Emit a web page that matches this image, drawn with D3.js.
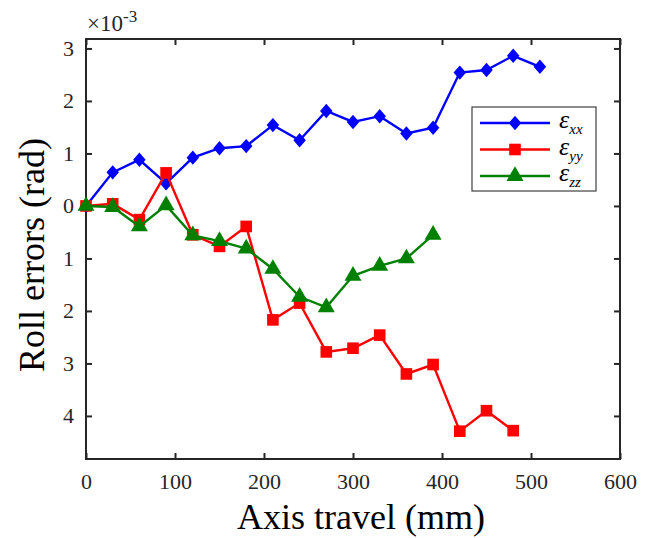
<!DOCTYPE html>
<html>
<head>
<meta charset="utf-8">
<script src="https://cdn.jsdelivr.net/npm/d3@7"></script>
<style>
  body { margin: 0; background: #fff; }
  text { font-family: "Liberation Serif", "Times New Roman", serif; }
</style>
</head>
<body>
<div id="chart"></div>
<script>
// data (values in 1e-3 rad)
let travel = [0, 30, 60, 90, 120, 150, 180, 210, 240, 270, 300, 330, 360, 390, 420, 450, 480, 510];
let exx = [0, 0.64, 0.88, 0.43, 0.92, 1.10, 1.14, 1.54, 1.25, 1.81, 1.60, 1.71, 1.38, 1.49, 2.54, 2.59, 2.86, 2.65];
let eyy = [0, 0.04, -0.26, 0.63, -0.55, -0.77, -0.39, -2.17, -1.85, -2.78, -2.71, -2.46, -3.20, -3.02, -4.29, -3.90, -4.28];
let ezz = [0, -0.02, -0.39, 0.01, -0.56, -0.67, -0.81, -1.20, -1.73, -1.93, -1.33, -1.14, -1.00, -0.55];
let xTicks = [0, 100, 200, 300, 400, 500, 600];
let yTicks = [3, 2, 1, 0, -1, -2, -3, -4];
let yTickLabels = ["3", "2", "1", "0", "1", "2", "3", "4"];

let series = [
  {name: "xx", values: exx, color: "#0000ff", symbol: d3.symbolDiamond2, size: 100, sy: 1.15},
  {name: "yy", values: eyy, color: "#ff0000", symbol: d3.symbolSquare, size: 135, sy: 1},
  {name: "zz", values: ezz, color: "#008000", symbol: d3.symbolTriangle, size: 125, sy: 1}
];

let width = 648, height = 538;
let mLeft = 86, mRight = 620, mTop = 39, mBottom = 459;

let x = d3.scaleLinear().domain([0, 600]).range([mLeft, mRight]);
let y = d3.scaleLinear().domain([-4.82, 3.18]).range([mBottom, mTop]);

let svg = d3.select("#chart").append("svg")
  .attr("width", width).attr("height", height);

// box + ticks
svg.append("rect")
  .attr("x", mLeft).attr("y", mTop)
  .attr("width", mRight - mLeft).attr("height", mBottom - mTop)
  .attr("fill", "none").attr("stroke", "#262626").attr("stroke-width", 2);

let tickCol = "#262626";
svg.append("g")
  .attr("transform", `translate(0,${mBottom})`)
  .call(d3.axisBottom(x).tickValues(xTicks).tickSize(-6).tickPadding(14).tickFormat(d3.format("d")))
  .call(g => g.select(".domain").remove());
svg.append("g")
  .attr("transform", `translate(0,${mTop})`)
  .call(d3.axisTop(x).tickValues(xTicks).tickSize(-6).tickFormat(""))
  .call(g => g.select(".domain").remove());
svg.append("g")
  .attr("transform", `translate(${mLeft},0)`)
  .call(d3.axisLeft(y).tickValues(yTicks).tickSize(-6).tickPadding(12).tickFormat((d, i) => yTickLabels[i]))
  .call(g => g.select(".domain").remove());
svg.append("g")
  .attr("transform", `translate(${mRight},0)`)
  .call(d3.axisRight(y).tickValues(yTicks).tickSize(-6).tickFormat(""))
  .call(g => g.select(".domain").remove());

svg.selectAll("g").attr("font-family", "'Liberation Serif', serif");
svg.selectAll(".tick line").attr("stroke", tickCol).attr("stroke-width", 2);
svg.selectAll(".tick text")
  .attr("fill", tickCol)
  .style("font-size", "22px");

// exponent label
let expo = svg.append("text")
  .attr("x", 87).attr("y", 31)
  .attr("fill", tickCol)
  .style("font-size", "23px");
expo.append("tspan").text("\u00d710");
expo.append("tspan").attr("dy", -9).style("font-size", "17px").text("-3");

// axis titles
svg.append("text")
  .attr("x", 361).attr("y", 529)
  .attr("text-anchor", "middle")
  .style("font-size", "36px")
  .text("Axis travel (mm)");
svg.append("text")
  .attr("transform", `translate(44,${(mTop + mBottom) / 2 + 6}) rotate(-90)`)
  .attr("text-anchor", "middle")
  .style("font-size", "36px")
  .text("Roll errors (rad)");

// lines + markers
let line = d3.line().x((d, i) => x(travel[i])).y(d => y(d));

series.forEach(s => {
  svg.append("path")
    .datum(s.values)
    .attr("d", line)
    .attr("fill", "none")
    .attr("stroke", s.color)
    .attr("stroke-width", 2.4);
  svg.selectAll(".m" + s.name)
    .data(s.values)
    .enter().append("path")
    .attr("d", d3.symbol().type(s.symbol).size(s.size))
    .attr("transform", (d, i) => `translate(${x(travel[i])},${y(d)}) scale(1,${s.sy})`)
    .attr("fill", s.color);
});

// legend
let lg = svg.append("g").attr("transform", "translate(472,107)");
lg.append("rect")
  .attr("width", 124).attr("height", 84)
  .attr("fill", "#fff").attr("stroke", "#404040").attr("stroke-width", 1.2);
series.forEach((s, i) => {
  let ry = 16 + i * 26.5;
  lg.append("line")
    .attr("x1", 8).attr("x2", 78).attr("y1", ry).attr("y2", ry)
    .attr("stroke", s.color).attr("stroke-width", 2.4);
  lg.append("path")
    .attr("d", d3.symbol().type(s.symbol).size(s.size))
    .attr("transform", `translate(43,${ry}) scale(1,${s.sy})`)
    .attr("fill", s.color);
  let t = lg.append("text")
    .attr("x", 87).attr("y", ry + 5)
    .style("font-style", "italic");
  t.append("tspan").style("font-size", "26px").text("\u03b5");
  t.append("tspan").attr("dy", 6).style("font-size", "15px").text(s.name);
});
</script>
</body>
</html>
